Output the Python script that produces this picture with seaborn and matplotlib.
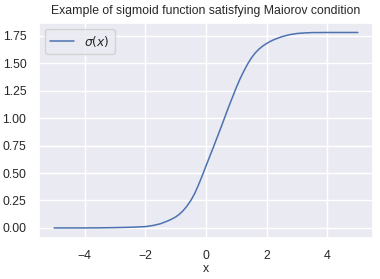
import matplotlib
matplotlib.use("Agg")
import matplotlib.pyplot as plt
import seaborn as sns
import pandas as pd

# values
x_values = [-5.0, -4.0, -3.5, -3.0, -2.5, -2.0, -1.75, -1.5, -1.25, -1.125, -1.0, -0.875,
            -0.75, -0.625, -0.5, -0.375, -0.25, -0.125, 0.0, 0.25, 0.5, 0.75, 1.0, 1.125,
            1.25, 1.375, 1.5, 1.625, 1.75, 1.875, 2.0, 2.125, 2.25, 2.5, 2.75, 3.0, 3.25,
            3.5, 4.0, 5.0]
sigma_values = [0.000, 0.000, 0.001, 0.003, 0.006, 0.012, 0.022, 0.038, 0.065, 0.081, 0.100,
                0.125, 0.158, 0.200, 0.250, 0.312, 0.390, 0.475, 0.565, 0.740, 0.920, 1.105,
                1.280, 1.360, 1.430, 1.495, 1.550, 1.595, 1.630, 1.658, 1.680, 1.700, 1.716,
                1.742, 1.760, 1.771, 1.776, 1.779, 1.780, 1.780]
series_label = r"$\sigma(x)$"
title_text = "Example of sigmoid function satisfying Maiorov condition"
x_label = "x"

sns.set_theme(style="darkgrid")
plt.rcParams["font.family"] = ["Liberation Sans", "DejaVu Sans"]

df = pd.DataFrame({"x": x_values, "sigma": sigma_values})

fig, ax = plt.subplots(figsize=(3.8, 2.79), dpi=100)
fig.subplots_adjust(left=0.1026, right=0.9816, top=0.9186, bottom=0.148)
sns.lineplot(data=df, x="x", y="sigma", ax=ax, label=series_label, linewidth=1.1)

fs = 8.8
ax.set_title(title_text, fontsize=fs)
ax.set_xlabel(x_label, fontsize=fs, labelpad=0.5)
ax.set_ylabel("")
ax.tick_params(labelsize=fs, pad=3)
ax.legend(loc="upper left", fontsize=fs)

fig.savefig("out.png", dpi=100)
